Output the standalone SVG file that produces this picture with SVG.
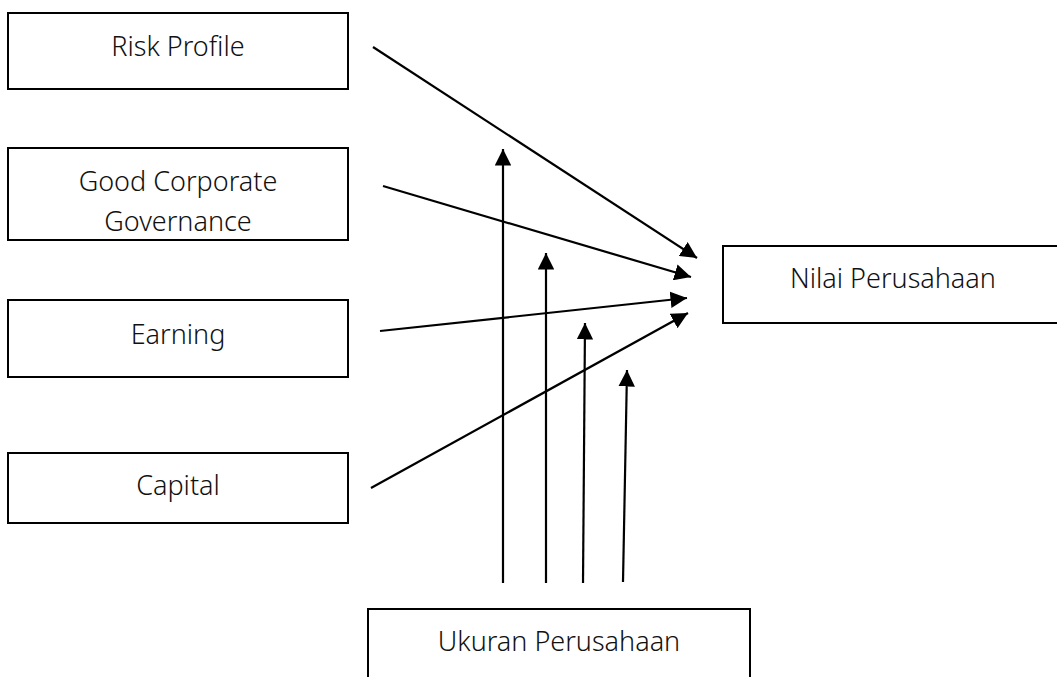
<svg xmlns="http://www.w3.org/2000/svg" width="1057" height="677" viewBox="0 0 1057 677">
<style>
.box{fill:#fff;stroke:#000;stroke-width:2}
.lbl{font-family:"Noto Sans","Open Sans",sans-serif;font-size:27px;font-weight:300;fill:#111;text-anchor:middle}
.conn line{stroke:#000;stroke-width:2.2;fill:none}
</style>
<defs>
<marker id="ah" viewBox="0 0 10 10" refX="10" refY="5" markerWidth="7.5" markerHeight="7.5" markerUnits="strokeWidth" orient="auto">
<path d="M0,0 L10,5 L0,10 Z" fill="#000"/>
</marker>
</defs>
<rect width="1057" height="677" fill="#fff"/>
<g id="risk"><rect class="box" x="8" y="13" width="340" height="76"/><text class="lbl" x="178" y="56">Risk Profile</text></g>
<g id="gcg"><rect class="box" x="8" y="148" width="340" height="92"/><text class="lbl" x="178" y="191">Good Corporate</text><text class="lbl" x="178" y="231">Governance</text></g>
<g id="earning"><rect class="box" x="8" y="300" width="340" height="77"/><text class="lbl" x="178" y="344">Earning</text></g>
<g id="capital"><rect class="box" x="8" y="453" width="340" height="70"/><text class="lbl" x="178" y="495">Capital</text></g>
<g id="nilai"><rect class="box" x="723" y="246" width="340" height="77"/><text class="lbl" x="893" y="288">Nilai Perusahaan</text></g>
<g id="ukuran"><rect class="box" x="368" y="609" width="382" height="80"/><text class="lbl" x="559" y="651">Ukuran Perusahaan</text></g>
<g class="conn" id="connectors">
<line x1="373" y1="47" x2="697" y2="258" marker-end="url(#ah)"/>
<line x1="383" y1="186" x2="691" y2="277" marker-end="url(#ah)"/>
<line x1="380" y1="331" x2="687" y2="298" marker-end="url(#ah)"/>
<line x1="371" y1="488" x2="688" y2="313" marker-end="url(#ah)"/>
<line x1="503" y1="583" x2="503" y2="149" marker-end="url(#ah)"/>
<line x1="546" y1="583" x2="546" y2="253" marker-end="url(#ah)"/>
<line x1="583" y1="583" x2="585" y2="323" marker-end="url(#ah)"/>
<line x1="623" y1="582" x2="627" y2="370" marker-end="url(#ah)"/>
</g>
</svg>
